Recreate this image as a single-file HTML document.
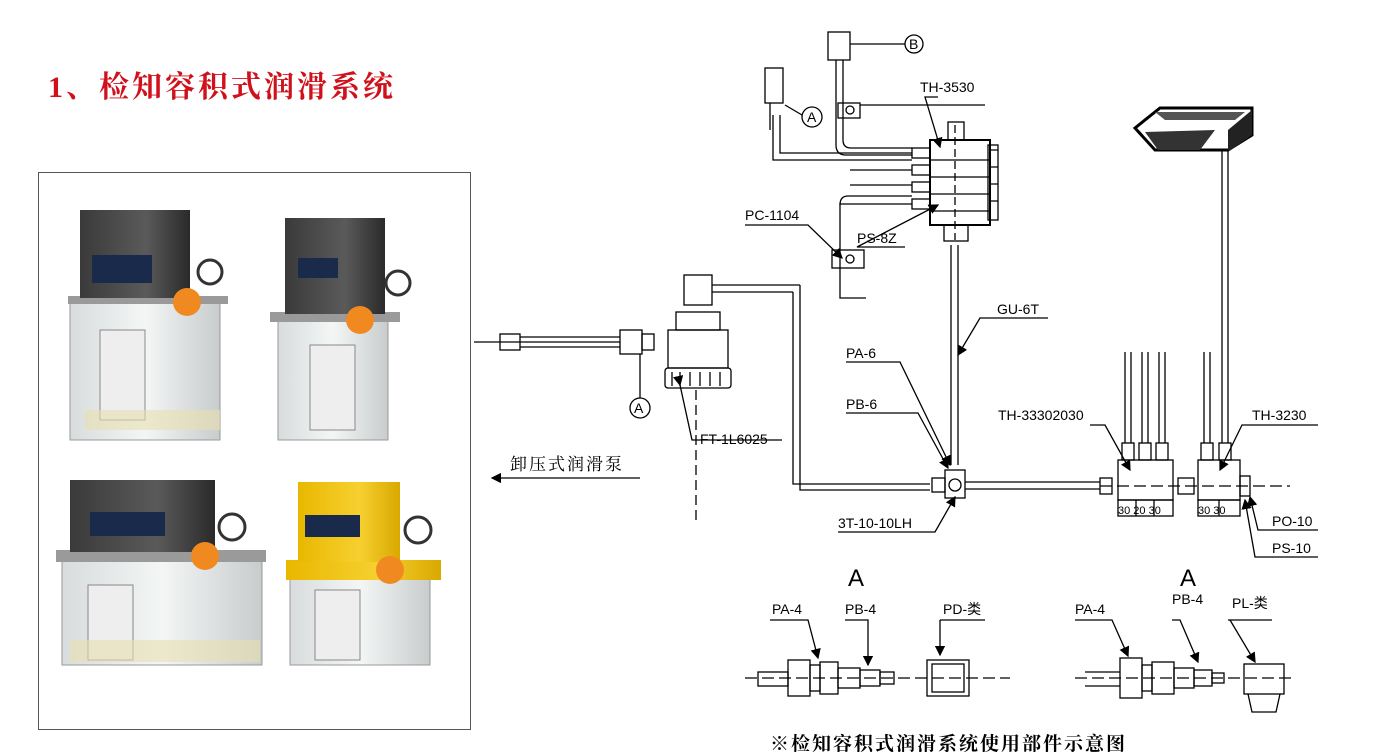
<!DOCTYPE html>
<html><head><meta charset="utf-8"><style>
body{margin:0;background:#fff;width:1377px;height:752px;overflow:hidden;position:relative;font-family:"Liberation Sans","Noto Sans CJK SC",sans-serif}
.t{position:absolute;left:48px;top:62px;font-family:"Liberation Serif","Noto Serif CJK SC",serif;font-weight:bold;font-size:30px;color:#d0111b;letter-spacing:3px}
svg{position:absolute;left:0;top:0}
</style></head><body>
<div class="t">1、检知容积式润滑系统</div>
<svg width="1377" height="752" viewBox="0 0 1377 752" font-family="Liberation Sans, sans-serif" font-size="14">
<defs>
<marker id="ar" markerWidth="8" markerHeight="8" refX="7" refY="4" orient="auto"><path d="M0,0 L8,4 L0,8z" fill="#000"/></marker>
<linearGradient id="tank" x1="0" x2="1"><stop offset="0" stop-color="#d8dcdc"/><stop offset=".5" stop-color="#f4f6f6"/><stop offset="1" stop-color="#c8cccc"/></linearGradient>
<linearGradient id="dk" x1="0" x2="1"><stop offset="0" stop-color="#3a3a3a"/><stop offset=".6" stop-color="#5a5a5a"/><stop offset="1" stop-color="#2a2a2a"/></linearGradient>
<linearGradient id="yl" x1="0" x2="1"><stop offset="0" stop-color="#e8b800"/><stop offset=".6" stop-color="#f7d030"/><stop offset="1" stop-color="#d9a800"/></linearGradient>
</defs>
<rect x="38.5" y="172.5" width="432" height="557" fill="#fff" stroke="#555"/>
<rect x="70" y="300" width="150" height="140" fill="url(#tank)" stroke="#999"/>
<rect x="100" y="330" width="45" height="90" fill="#eee" stroke="#888"/>
<rect x="68" y="296" width="160" height="8" fill="#9a9a9a"/>
<rect x="80" y="210" width="110" height="88" fill="url(#dk)"/>
<rect x="92" y="255" width="60" height="28" fill="#1a2a4a"/>
<circle cx="187" cy="302" r="14" fill="#f08a20"/>
<circle cx="210" cy="272" r="12" fill="#fff" stroke="#333" stroke-width="3"/>
<rect x="85" y="410" width="135" height="20" fill="#e8e0b0" opacity=".6"/>
<rect x="278" y="320" width="110" height="120" fill="url(#tank)" stroke="#999"/>
<rect x="310" y="345" width="45" height="85" fill="#eee" stroke="#888"/>
<rect x="270" y="312" width="130" height="10" fill="#9a9a9a"/>
<rect x="285" y="218" width="100" height="96" fill="url(#dk)"/>
<rect x="298" y="258" width="40" height="20" fill="#1a2a4a"/>
<circle cx="360" cy="320" r="14" fill="#f08a20"/>
<circle cx="398" cy="283" r="12" fill="#fff" stroke="#333" stroke-width="3"/>
<rect x="62" y="560" width="200" height="105" fill="url(#tank)" stroke="#999"/>
<rect x="88" y="585" width="45" height="75" fill="#eee" stroke="#888"/>
<rect x="56" y="550" width="210" height="12" fill="#9a9a9a"/>
<rect x="70" y="480" width="145" height="72" fill="url(#dk)"/>
<rect x="90" y="512" width="75" height="24" fill="#1a2a4a"/>
<circle cx="205" cy="556" r="14" fill="#f08a20"/>
<circle cx="232" cy="527" r="13" fill="#fff" stroke="#333" stroke-width="3"/>
<rect x="70" y="640" width="190" height="22" fill="#e8e0b0" opacity=".6"/>
<rect x="290" y="570" width="140" height="95" fill="url(#tank)" stroke="#999"/>
<rect x="315" y="590" width="45" height="70" fill="#eee" stroke="#888"/>
<rect x="286" y="560" width="155" height="20" fill="url(#yl)"/>
<rect x="298" y="482" width="102" height="80" fill="url(#yl)"/>
<rect x="305" y="515" width="55" height="22" fill="#1a2a4a"/>
<circle cx="390" cy="570" r="14" fill="#f08a20"/>
<circle cx="418" cy="530" r="13" fill="#fff" stroke="#333" stroke-width="3"/>

<!-- machine bracket (dark) -->
<path d="M1135,128 L1160,108 H1252 V135 L1228,150 H1155 Z" fill="#fff" stroke="#000" stroke-width="3"/>
<path d="M1228,130 L1252,110 V135 L1228,152 Z" fill="#222"/>
<path d="M1145,132 L1158,150 H1200 L1215,130 Z" fill="#333"/>
<path d="M1155,112 H1245 L1235,120 H1165 Z" fill="#555"/>

<g stroke="#000" fill="none" stroke-width="1.3">
<line x1="474" y1="342" x2="620" y2="342"/>
<rect x="500" y="334" width="20" height="16"/>
<line x1="520" y1="337" x2="620" y2="337"/><line x1="520" y1="347" x2="620" y2="347"/>
<rect x="620" y="330" width="22" height="24"/><rect x="642" y="334" width="12" height="16"/>
<line x1="640" y1="354" x2="640" y2="398"/><circle cx="640" cy="408" r="10"/>
<rect x="668" y="330" width="60" height="38"/>
<rect x="665" y="368" width="66" height="20" rx="3"/>
<path d="M672,372 V386 M680,372 V386 M690,372 V386 M700,372 V386 M710,372 V386 M720,372 V386"/>
<rect x="676" y="312" width="44" height="18"/>
<rect x="684" y="275" width="28" height="30"/>
<line x1="712" y1="285" x2="800" y2="285"/><line x1="712" y1="292" x2="793" y2="292"/>
<path d="M800,285 V490 H930"/><path d="M793,292 V484 H930"/>
<line x1="696" y1="390" x2="696" y2="525" stroke-dasharray="10,5"/>
<path d="M680,385 L692,440 H782" marker-start="url(#ar)"/>
<line x1="640" y1="478" x2="492" y2="478" marker-end="url(#ar)"/>
<line x1="951" y1="245" x2="951" y2="465"/><line x1="958" y1="245" x2="958" y2="465"/>
<rect x="945" y="470" width="20" height="28"/><circle cx="955" cy="485" r="6"/>
<rect x="932" y="478" width="13" height="14"/>
<line x1="965" y1="482" x2="1100" y2="482"/><line x1="965" y1="489" x2="1100" y2="489"/>
<line x1="1100" y1="486" x2="1290" y2="486" stroke-dasharray="12,5"/>
<!-- distributor -->
<rect x="930" y="140" width="60" height="85" stroke-width="2"/>
<path d="M930,160 H990 M930,177 H990 M930,194 H990 M930,211 H990"/>
<rect x="988" y="145" width="10" height="75"/>
<path d="M990,150 H998 M990,167 H998 M990,184 H998 M990,201 H998"/>
<line x1="955" y1="125" x2="955" y2="240" stroke-dasharray="8,4"/>
<rect x="948" y="122" width="16" height="18"/>
<rect x="944" y="225" width="24" height="16"/>
<rect x="912" y="148" width="18" height="10"/><rect x="912" y="165" width="18" height="10"/><rect x="912" y="182" width="18" height="10"/><rect x="912" y="199" width="18" height="10"/>
<path d="M912,153 H780 V115"/><path d="M912,160 H773 V115"/>
<path d="M912,170 H850"/>
<path d="M912,185 H850"/>
<path d="M912,204 H840 V260"/><path d="M912,196 H848 Q840,196 840,205"/>
<path d="M840,260 V298 H866"/>
<rect x="832" y="250" width="32" height="18"/><circle cx="850" cy="259" r="4"/>
<rect x="765" y="68" width="18" height="35"/><line x1="770" y1="103" x2="770" y2="130"/>
<circle cx="812" cy="117" r="10"/><line x1="785" y1="105" x2="802" y2="115"/>
<rect x="828" y="32" width="22" height="28"/><line x1="850" y1="44" x2="905" y2="44"/><circle cx="914" cy="44" r="9"/>
<path d="M836,60 V145 Q836,155 846,155 H912"/><path d="M843,60 V140 Q843,148 851,148 H912"/>
<rect x="838" y="103" width="22" height="15"/><circle cx="850" cy="110" r="4"/>
<line x1="860" y1="105" x2="985" y2="105"/>
<path d="M745,225 H808 L842,258" marker-end="url(#ar)"/>
<path d="M905,247 H857 L938,205" marker-end="url(#ar)"/>
<path d="M938,97 H925 L940,147" marker-end="url(#ar)"/>
<path d="M1048,318 H980 L958,355" marker-end="url(#ar)"/>
<path d="M846,362 H900 L950,465" marker-end="url(#ar)"/>
<path d="M846,413 H918 L948,468" marker-end="url(#ar)"/>
<path d="M838,532 H935 L955,497" marker-end="url(#ar)"/>
<rect x="1118" y="460" width="55" height="40"/>
<rect x="1198" y="460" width="42" height="40"/>
<rect x="1118" y="500" width="55" height="16"/><rect x="1198" y="500" width="42" height="16"/>
<line x1="1136" y1="500" x2="1136" y2="516"/><line x1="1154" y1="500" x2="1154" y2="516"/><line x1="1219" y1="500" x2="1219" y2="516"/>
<rect x="1122" y="443" width="12" height="17"/><rect x="1139" y="443" width="12" height="17"/><rect x="1156" y="443" width="12" height="17"/>
<rect x="1201" y="443" width="12" height="17"/><rect x="1219" y="443" width="12" height="17"/>
<line x1="1125" y1="352" x2="1125" y2="443"/><line x1="1131" y1="352" x2="1131" y2="443"/>
<line x1="1142" y1="352" x2="1142" y2="443"/><line x1="1148" y1="352" x2="1148" y2="443"/>
<line x1="1159" y1="352" x2="1159" y2="443"/><line x1="1165" y1="352" x2="1165" y2="443"/>
<line x1="1204" y1="352" x2="1204" y2="443"/><line x1="1210" y1="352" x2="1210" y2="443"/>
<line x1="1222" y1="150" x2="1222" y2="443"/><line x1="1228" y1="150" x2="1228" y2="443"/>
<rect x="1100" y="478" width="12" height="16"/><rect x="1178" y="478" width="16" height="16"/><rect x="1240" y="476" width="10" height="20"/>
<path d="M1090,425 H1105 L1130,470" marker-end="url(#ar)"/>
<path d="M1318,425 H1242 L1220,470" marker-end="url(#ar)"/>
<path d="M1318,530 H1258 L1250,497" marker-end="url(#ar)"/>
<path d="M1318,557 H1255 L1245,500" marker-end="url(#ar)"/>
<line x1="745" y1="678" x2="1010" y2="678" stroke-dasharray="12,5"/>
<rect x="758" y="672" width="30" height="14"/>
<rect x="788" y="660" width="22" height="36"/><rect x="810" y="665" width="10" height="26"/>
<rect x="820" y="662" width="18" height="32"/><rect x="838" y="668" width="22" height="20"/>
<rect x="860" y="670" width="20" height="16"/><rect x="880" y="672" width="14" height="12"/>
<rect x="927" y="660" width="42" height="36"/><rect x="932" y="664" width="32" height="28"/>
<path d="M770,620 H808 L818,658" marker-end="url(#ar)"/>
<path d="M845,620 H868 L868,665" marker-end="url(#ar)"/>
<path d="M940,620 H985 M940,620 V655" marker-end="url(#ar)"/>
<line x1="1075" y1="678" x2="1295" y2="678" stroke-dasharray="12,5"/>
<path d="M1085,672 H1120 M1085,686 H1120"/>
<rect x="1120" y="658" width="22" height="40"/><rect x="1142" y="665" width="10" height="26"/>
<rect x="1152" y="662" width="22" height="32"/><rect x="1174" y="668" width="20" height="20"/>
<rect x="1194" y="670" width="18" height="16"/><rect x="1212" y="673" width="12" height="10"/>
<rect x="1244" y="664" width="40" height="30"/><path d="M1248,694 L1252,712 H1276 L1280,694"/>
<path d="M1075,620 H1112 L1128,656" marker-end="url(#ar)"/>
<path d="M1172,620 H1180 L1198,662" marker-end="url(#ar)"/>
<path d="M1228,620 H1272 M1230,620 L1255,662" marker-end="url(#ar)"/>
</g>
<g fill="#000" font-size="14">
<text x="634" y="413">A</text>
<text x="807" y="122">A</text>
<text x="909" y="49">B</text>
<text x="920" y="92">TH-3530</text>
<text x="745" y="220">PC-1104</text>
<text x="857" y="243">PS-8Z</text>
<text x="997" y="314">GU-6T</text>
<text x="846" y="358">PA-6</text>
<text x="846" y="409">PB-6</text>
<text x="700" y="444">FT-1L6025</text>
<text x="838" y="528">3T-10-10LH</text>
<text x="998" y="420">TH-33302030</text>
<text x="1252" y="420">TH-3230</text>
<text x="1272" y="526">PO-10</text>
<text x="1272" y="553">PS-10</text>
<text x="1118" y="514" font-size="11">30 20 30</text>
<text x="1198" y="514" font-size="11">30 30</text>
<text x="848" y="586" font-size="24">A</text>
<text x="1180" y="586" font-size="24">A</text>
<text x="772" y="614">PA-4</text>
<text x="845" y="614">PB-4</text>
<text x="943" y="614" font-family="Liberation Sans, Noto Sans CJK SC, sans-serif">PD-类</text>
<text x="1075" y="614">PA-4</text>
<text x="1172" y="604">PB-4</text>
<text x="1232" y="608" font-family="Liberation Sans, Noto Sans CJK SC, sans-serif">PL-类</text>
<text x="510" y="470" font-size="17" font-family="Liberation Serif, Noto Serif CJK SC, serif" letter-spacing="2">卸压式润滑泵</text>
<text x="770" y="750" font-size="19" font-weight="bold" font-family="Liberation Serif, Noto Serif CJK SC, serif" letter-spacing="2">※检知容积式润滑系统使用部件示意图</text>
</g>
</svg>
</body></html>
